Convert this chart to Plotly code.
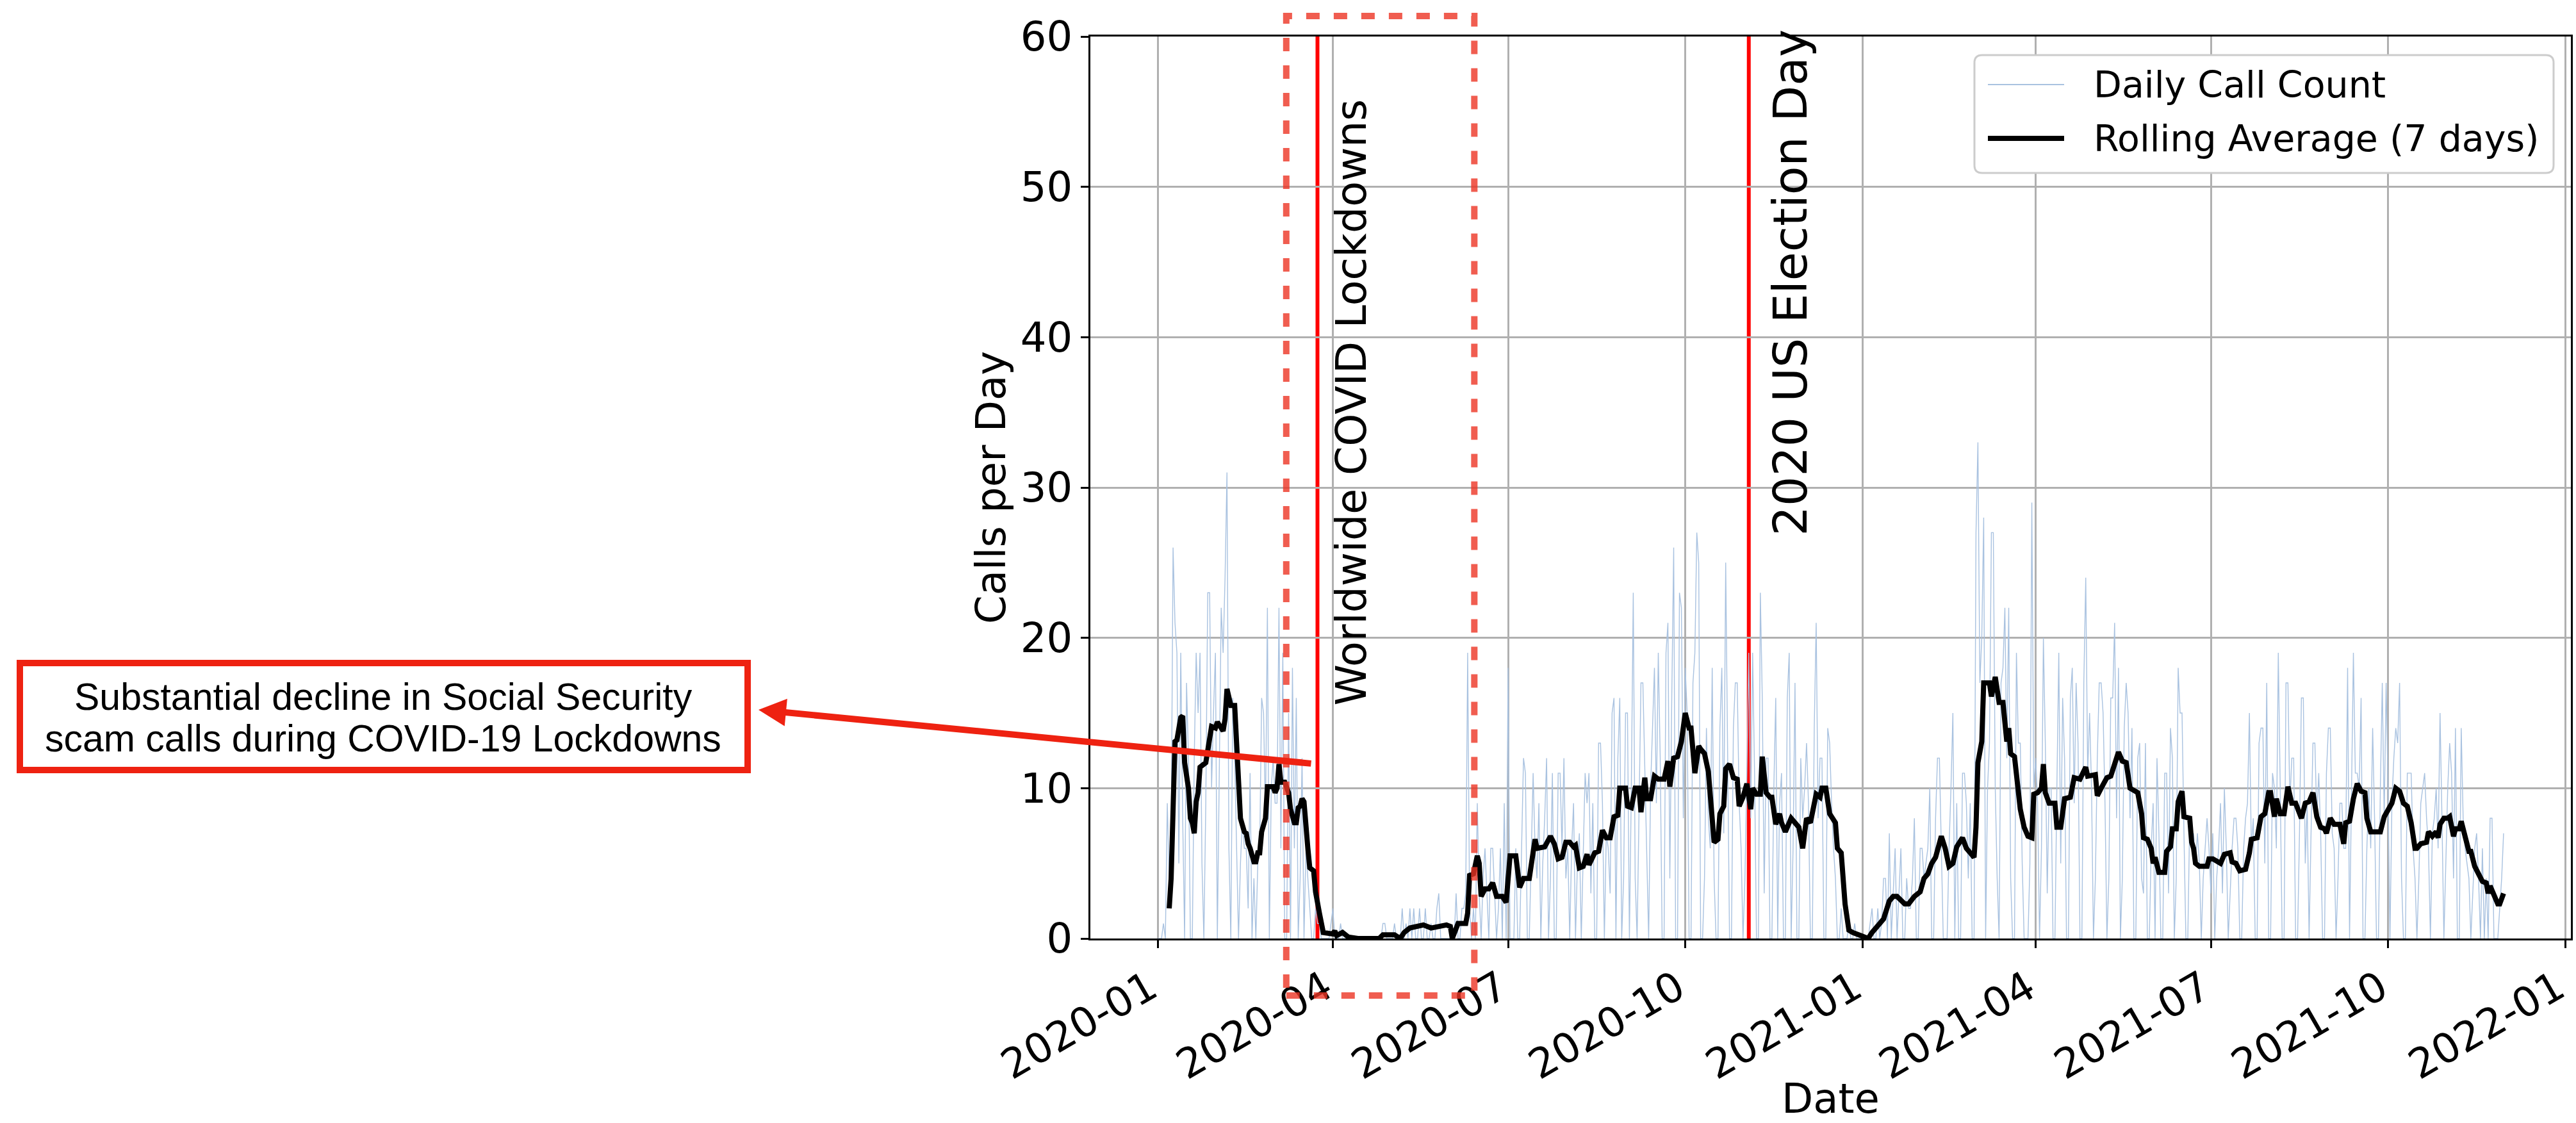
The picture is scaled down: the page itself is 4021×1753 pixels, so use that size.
import pandas as pd
import plotly.graph_objects as go

FIRST_DAY = pd.Timestamp("2020-01-01")

# Daily scam-call counts, one row per week (Wed..Tue), starting 2020-01-01
daily_calls = [
    0, 0, 0, 1, 0, 9, 4,
    6, 26, 21, 19, 5, 19, 8,
    0, 17, 12, 0, 0, 12, 19,
    15, 19, 5, 0, 9, 23, 23,
    10, 15, 19, 0, 12, 22, 19,
    24, 31, 6, 0, 16, 12, 6,
    0, 5, 8, 6, 6, 2, 11,
    0, 4, 0, 5, 6, 16, 15,
    8, 22, 0, 10, 12, 9, 9,
    22, 6, 19, 0, 0, 15, 0,
    18, 6, 16, 0, 4, 12, 0,
    6, 4, 2, 0, 0, 2, 1,
    1, 0, 0, 0, 0, 0, 1,
    2, 0, 0, 0, 1, 0, 0,
    0, 0, 0, 0, 0, 0, 0,
    0, 0, 0, 0, 0, 0, 0,
    0, 0, 0, 0, 0, 1, 1,
    0, 0, 0, 0, 1, 0, 0,
    0, 2, 0, 1, 0, 2, 0,
    2, 0, 0, 2, 0, 0, 2,
    0, 0, 1, 0, 0, 2, 3,
    0, 0, 0, 0, 0, 0, 0,
    0, 3, 0, 0, 2, 2, 3,
    19, 2, 0, 2, 0, 9, 3,
    0, 4, 6, 3, 0, 6, 6,
    3, 0, 2, 6, 0, 9, 0,
    18, 0, 0, 0, 6, 0, 0,
    6, 12, 11, 0, 0, 5, 11,
    6, 4, 9, 0, 5, 8, 12,
    0, 4, 11, 0, 0, 11, 11,
    6, 12, 4, 6, 0, 6, 9,
    0, 5, 7, 0, 6, 11, 9,
    11, 3, 9, 0, 0, 13, 13,
    9, 0, 7, 6, 3, 15, 16,
    0, 12, 16, 0, 4, 15, 15,
    0, 10, 23, 4, 0, 9, 17,
    17, 11, 6, 0, 10, 14, 18,
    9, 19, 12, 0, 0, 19, 21,
    4, 16, 26, 0, 0, 23, 22,
    8, 18, 15, 0, 0, 17, 19,
    27, 25, 0, 0, 4, 14, 8,
    6, 18, 4, 0, 0, 14, 18,
    7, 25, 11, 0, 0, 14, 17,
    17, 9, 6, 0, 4, 11, 19,
    8, 19, 11, 0, 0, 23, 16,
    3, 12, 12, 0, 0, 10, 16,
    0, 9, 11, 0, 0, 16, 19,
    0, 6, 17, 0, 0, 12, 8,
    10, 13, 9, 0, 0, 14, 21,
    8, 12, 12, 0, 0, 14, 13,
    9, 6, 4, 0, 0, 2, 0,
    0, 0, 1, 0, 0, 1, 0,
    0, 0, 0, 0, 0, 0, 1,
    2, 0, 0, 2, 0, 1, 4,
    4, 0, 7, 0, 3, 6, 0,
    3, 6, 0, 0, 4, 2, 2,
    4, 8, 0, 0, 6, 6, 4,
    5, 6, 10, 0, 0, 8, 12,
    12, 6, 0, 0, 0, 6, 10,
    15, 0, 9, 0, 0, 11, 11,
    9, 4, 9, 0, 0, 27, 33,
    17, 20, 28, 0, 10, 13, 27,
    27, 10, 4, 0, 17, 18, 22,
    12, 22, 4, 0, 0, 19, 13,
    13, 5, 0, 0, 0, 5, 29,
    10, 12, 9, 0, 6, 20, 13,
    3, 10, 10, 0, 0, 10, 19,
    5, 16, 12, 0, 0, 16, 18,
    9, 17, 13, 0, 0, 17, 24,
    11, 15, 10, 0, 4, 12, 17,
    17, 15, 9, 0, 4, 16, 16,
    21, 8, 18, 0, 4, 14, 17,
    15, 8, 14, 0, 0, 12, 13,
    4, 3, 13, 0, 0, 6, 9,
    0, 12, 7, 0, 0, 11, 11,
    3, 14, 12, 0, 4, 18, 15,
    15, 7, 0, 0, 8, 6, 7,
    5, 7, 5, 0, 4, 6, 8,
    6, 3, 7, 0, 4, 6, 9,
    3, 10, 6, 0, 3, 6, 8,
    8, 6, 0, 0, 6, 8, 9,
    15, 6, 8, 0, 0, 13, 14,
    14, 5, 17, 0, 0, 11, 10,
    6, 19, 10, 0, 0, 17, 17,
    9, 12, 12, 0, 0, 7, 16,
    16, 5, 9, 0, 7, 13, 13,
    8, 11, 7, 0, 0, 11, 14,
    14, 7, 6, 0, 4, 9, 9,
    6, 6, 18, 0, 10, 19, 11,
    11, 10, 16, 0, 0, 6, 10,
    6, 14, 8, 0, 0, 10, 17,
    8, 17, 10, 0, 9, 12, 14,
    13, 17, 4, 0, 0, 11, 11,
    11, 6, 4, 0, 4, 9, 10,
    11, 8, 6, 0, 7, 8, 10,
    6, 15, 8, 0, 5, 10, 13,
    11, 4, 14, 0, 0, 14, 8,
    6, 5, 4, 0, 3, 6, 7,
    4, 0, 6, 0, 4, 0, 8,
    8, 0, 0, 0, 2, 4, 7,
]

# 7-day rolling average: day number (days since 2020-01-01) and value
roll_day = [
    6, 7, 9, 10, 12, 13, 14, 16, 17, 18, 19, 20, 21, 22, 25, 26, 28, 30, 31, 34,
    35, 36, 38, 40, 41, 42, 43, 45, 46, 47, 48, 50, 51, 52, 53, 54, 56, 57, 60, 61,
    62, 63, 64, 66, 68, 69, 71, 72, 73, 74, 75, 76, 77, 78, 79, 81, 82, 83, 84, 86,
    89, 91, 92, 93, 96, 99, 104, 115, 117, 123, 126, 128, 131, 134, 138, 142, 145, 150, 152, 153,
    156, 160, 161, 162, 164, 166, 167, 168, 170, 172, 174, 176, 179, 181, 183, 186, 188, 190, 193, 196,
    197, 201, 204, 206, 208, 210, 212, 214, 216, 217, 219, 221, 223, 224, 227, 229, 231, 233, 235, 237,
    239, 240, 243, 244, 246, 248, 250, 251, 253, 254, 256, 258, 260, 263, 265, 266, 268, 270, 272, 274,
    276, 277, 279, 281, 282, 284, 286, 288, 289, 291, 292, 294, 295, 297, 299, 301, 302, 304, 306, 308,
    309, 311, 313, 314, 316, 318, 319, 321, 323, 324, 326, 329, 331, 333, 335, 337, 339, 342, 344, 345,
    347, 349, 352, 353, 355, 357, 359, 361, 365, 369, 371, 374, 377, 380, 382, 384, 386, 388, 390, 393,
    396, 398, 400, 402, 404, 407, 409, 411, 413, 415, 418, 420, 422, 424, 425, 426, 428, 429, 432, 433,
    435, 437, 439, 441, 442, 443, 445, 448, 450, 452, 454, 455, 457, 459, 460, 461, 463, 466, 467, 469,
    471, 474, 476, 479, 482, 483, 487, 488, 490, 493, 495, 497, 499, 501, 503, 505, 507, 509, 511, 512,
    514, 516, 517, 518, 520, 523, 524, 526, 527, 529, 530, 532, 533, 536, 537, 538, 539, 541, 545, 546,
    548, 550, 552, 554, 557, 558, 560, 562, 565, 567, 568, 571, 573, 575, 577, 578, 580, 581, 583, 585,
    587, 589, 591, 594, 596, 598, 600, 602, 604, 606, 607, 609, 611, 614, 616, 617, 619, 621, 623, 625,
    627, 628, 630, 633, 635, 637, 639, 641, 643, 645, 647, 649, 651, 653, 654, 656, 659, 660, 662, 664,
    665, 666, 668, 670, 671, 673, 674, 676, 677, 679, 681, 682, 684, 686, 688, 690, 691, 692, 694, 696,
    697, 699,
]
roll_avg = [
    2.0, 4.0, 13.1, 13.2, 14.7, 14.8, 11.7, 10.0, 8.0, 7.7, 7.0, 9.1, 9.7, 11.4, 11.7, 12.6, 14.1, 14.0, 14.4, 13.8,
    14.6, 16.6, 15.5, 15.5, 13.1, 10.8, 8.0, 7.1, 7.0, 6.3, 6.0, 5.1, 5.1, 5.7, 5.7, 7.1, 8.0, 10.1, 10.1, 9.7,
    10.0, 11.6, 10.4, 10.4, 9.7, 8.6, 7.7, 7.7, 8.7, 8.8, 9.3, 9.1, 7.0, 6.0, 4.7, 4.5, 3.1, 2.1, 1.7, 0.4,
    0.3, 0.3, 0.5, 0.2, 0.4, 0.1, 0.0, 0.0, 0.25, 0.25, 0.0, 0.4, 0.7, 0.8, 0.9, 0.7, 0.8, 0.9, 0.8, 0.0,
    1.0, 1.0, 1.7, 4.2, 4.3, 5.5, 5.0, 2.8, 3.3, 3.3, 3.7, 2.8, 2.8, 2.4, 5.5, 5.5, 3.4, 4.0, 4.0, 6.6,
    6.0, 6.1, 6.8, 6.3, 5.3, 5.4, 6.4, 6.4, 6.1, 6.2, 4.7, 4.8, 5.6, 4.9, 5.7, 5.8, 7.2, 6.7, 6.7, 8.1,
    8.2, 10.0, 10.0, 8.8, 8.7, 10.0, 10.0, 8.4, 10.7, 9.3, 9.3, 10.8, 10.6, 10.6, 11.8, 10.1, 12.0, 12.1, 13.1, 15.0,
    14.0, 14.0, 11.0, 12.8, 12.6, 12.3, 11.1, 8.3, 6.4, 6.6, 8.3, 8.8, 11.3, 11.6, 10.7, 10.6, 8.8, 9.4, 10.3, 8.6,
    10.0, 9.6, 9.6, 12.1, 9.7, 9.4, 9.4, 7.6, 8.3, 7.7, 7.1, 8.0, 7.7, 7.4, 6.0, 8.0, 7.7, 9.6, 9.4, 10.0,
    10.0, 8.3, 7.7, 6.0, 5.7, 2.3, 0.55, 0.4, 0.2, 0.0, 0.4, 0.8, 1.3, 2.5, 2.8, 2.8, 2.5, 2.3, 2.3, 2.8,
    3.1, 4.0, 4.3, 5.0, 5.4, 6.8, 6.0, 4.8, 5.0, 6.1, 6.7, 6.0, 5.7, 5.4, 7.4, 11.7, 13.1, 17.0, 17.0, 16.1,
    17.4, 15.7, 15.7, 13.1, 14.0, 12.3, 12.1, 8.6, 7.4, 6.8, 6.7, 9.6, 9.7, 10.0, 11.6, 9.7, 9.0, 9.0, 7.4, 7.4,
    9.3, 9.4, 10.7, 10.6, 11.4, 10.8, 10.9, 9.5, 10.0, 10.7, 10.8, 11.6, 12.4, 11.8, 11.7, 10.0, 9.8, 9.7, 8.3, 6.7,
    6.6, 6.0, 5.0, 5.4, 4.4, 4.4, 5.8, 6.1, 7.3, 7.3, 9.1, 9.8, 8.1, 8.0, 6.4, 6.0, 5.0, 4.8, 4.8, 5.3,
    5.3, 5.1, 5.0, 5.6, 5.7, 5.1, 5.0, 4.5, 4.6, 5.7, 6.6, 6.7, 8.1, 8.3, 9.7, 9.7, 8.1, 9.3, 8.3, 8.3,
    10.1, 9.0, 9.0, 8.0, 9.0, 9.1, 9.7, 8.1, 7.4, 7.3, 7.0, 8.0, 7.6, 7.6, 6.3, 7.7, 7.8, 9.3, 10.3, 9.8,
    9.7, 8.0, 7.1, 7.1, 7.1, 8.1, 8.6, 9.0, 10.0, 9.8, 9.0, 8.8, 7.7, 6.0, 6.0, 6.3, 6.4, 7.1, 6.8, 7.1,
    6.7, 7.6, 8.0, 8.0, 8.1, 6.8, 7.3, 7.3, 7.8, 6.6, 5.8, 5.8, 4.8, 4.3, 3.8, 3.7, 3.0, 3.5, 2.8, 2.3,
    2.3, 3.0,
]

series_names = ["Daily Call Count", "Rolling Average (7 days)"]
event_dates = ["2020-03-24", "2020-11-03"]
event_labels = ["Worldwide COVID Lockdowns", "2020 US Election Day"]
lockdown_window = ["2020-03-07 19:00", "2020-06-13 11:00"]
callout_lines = ["Substantial decline in Social Security",
                 "scam calls during COVID-19 Lockdowns"]
x_range = ["2019-11-27 01:12", "2022-01-03 22:48"]
y_range = [0, 60]

day_index = pd.date_range(FIRST_DAY, periods=len(daily_calls), freq="D")
roll_dates = FIRST_DAY + pd.to_timedelta(roll_day, unit="D")

# ---- page geometry (pixels) ----
W, H = 4021, 1753
ML, MR, MT, MB = 1702, 8, 57, 288
PW, PH = W - ML - MR, H - MT - MB


def fx(px):
    return (px - ML) / PW


def fy(py):
    return (H - MB - py) / PH


FONT = "DejaVu Sans"
DAILY_COLOR = "#a9c2e0"
RED = "#ff0000"
CALLOUT_RED = "#ee2211"
BOX_DASH = "rgba(236,52,36,0.8)"

fig = go.Figure()
fig.add_trace(go.Scatter(
    x=day_index, y=daily_calls, mode="lines", name=series_names[0],
    line=dict(color=DAILY_COLOR, width=1.4), showlegend=False, hoverinfo="skip"))
fig.add_trace(go.Scatter(
    x=roll_dates, y=roll_avg, mode="lines", name=series_names[1],
    line=dict(color="black", width=8), showlegend=False, hoverinfo="skip"))

shapes = []
# event markers
for d in event_dates:
    shapes.append(dict(type="line", xref="x", yref="paper", x0=d, x1=d, y0=0, y1=1,
                       line=dict(color=RED, width=6), layer="between"))
# dashed window around the lockdown period
shapes.append(dict(type="rect", xref="x", yref="paper",
                   x0=lockdown_window[0], x1=lockdown_window[1],
                   y0=fy(1554), y1=fy(25),
                   line=dict(color=BOX_DASH, width=10, dash="21px,22px"),
                   fillcolor="rgba(0,0,0,0)", layer="above"))
# callout box
shapes.append(dict(type="rect", xref="paper", yref="paper",
                   x0=fx(31), x1=fx(1167), y0=fy(1202), y1=fy(1035),
                   line=dict(color=CALLOUT_RED, width=10), fillcolor="white", layer="above"))

# legend frame with rounded corners
lx0, lx1, ly0, ly1 = fx(3082), fx(3986), fy(270), fy(86)
rx, ry = 12 / PW, 12 / PH
legend_path = (
    f"M{lx0 + rx},{ly1} L{lx1 - rx},{ly1} Q{lx1},{ly1} {lx1},{ly1 - ry} "
    f"L{lx1},{ly0 + ry} Q{lx1},{ly0} {lx1 - rx},{ly0} "
    f"L{lx0 + rx},{ly0} Q{lx0},{ly0} {lx0},{ly0 + ry} "
    f"L{lx0},{ly1 - ry} Q{lx0},{ly1} {lx0 + rx},{ly1} Z"
)
shapes.append(dict(type="path", xref="paper", yref="paper", path=legend_path,
                   line=dict(color="#cccccc", width=3), fillcolor="white", layer="above"))
legend_rows = [132, 216]
legend_styles = [dict(color=DAILY_COLOR, width=2), dict(color="black", width=8)]
for row, style in zip(legend_rows, legend_styles):
    shapes.append(dict(type="line", xref="paper", yref="paper",
                       x0=fx(3103), x1=fx(3222), y0=fy(row), y1=fy(row),
                       line=style, layer="above"))

annotations = []
for name, row in zip(series_names, legend_rows):
    annotations.append(dict(xref="paper", yref="paper", x=fx(3266), y=fy(row),
                            text=name, showarrow=False, xanchor="left", yanchor="middle",
                            font=dict(family=FONT, size=57, color="black")))

# vertical event labels
label_centers = [2109, 2794]
label_bottoms = [1104, 839]
label_sizes = [65, 73]
for text, cx, by, fs in zip(event_labels, label_centers, label_bottoms, label_sizes):
    annotations.append(dict(xref="paper", yref="paper", x=fx(cx), y=fy(by),
                            text=text, textangle=-90, showarrow=False,
                            xanchor="center", yanchor="bottom",
                            font=dict(family=FONT, size=fs, color="black")))

# callout text and arrow
for line_text, cy in zip(callout_lines, [1088, 1153]):
    annotations.append(dict(xref="paper", yref="paper", x=fx(598), y=fy(cy),
                            text=line_text, showarrow=False,
                            xanchor="center", yanchor="middle",
                            font=dict(family="Liberation Sans", size=59, color="black")))
annotations.append(dict(xref="paper", yref="paper", x=fx(1184), y=fy(1108),
                        text="", showarrow=True, axref="pixel", ayref="pixel",
                        ax=2048 - 1184, ay=1192 - 1108,
                        arrowhead=2, arrowsize=0.86, arrowwidth=10,
                        arrowcolor=CALLOUT_RED, standoff=0, startstandoff=0))

# axis titles
annotations.append(dict(xref="paper", yref="paper", x=0.5, y=fy(1715), text="Date",
                        showarrow=False, xanchor="center", yanchor="middle",
                        font=dict(family=FONT, size=64, color="black")))
annotations.append(dict(xref="paper", yref="paper", x=fx(1547), y=0.5, text="Calls per Day",
                        textangle=-90, showarrow=False, xanchor="center", yanchor="middle",
                        font=dict(family=FONT, size=64, color="black")))

axis_common = dict(
    showline=True, linecolor="black", linewidth=3, mirror=True,
    ticks="outside", ticklen=12, tickwidth=3, tickcolor="black",
    showgrid=True, gridcolor="#b0b0b0", gridwidth=2.7,
    zeroline=False,
    tickfont=dict(family=FONT, size=64, color="black"),
)

fig.update_layout(
    width=W, height=H,
    margin=dict(l=ML, r=MR, t=MT, b=MB, pad=0),
    paper_bgcolor="white", plot_bgcolor="white",
    showlegend=False,
    xaxis=dict(type="date", range=x_range, dtick="M3", tick0="2020-01-01",
               tickformat="%Y-%m", tickangle=-30, automargin=False,
               ticklabeloverflow="allow", ticklabelshift=-12, **axis_common),
    yaxis=dict(range=y_range, dtick=10, automargin=False, **axis_common),
    shapes=shapes,
    annotations=annotations,
)

fig.write_html("out.html")
